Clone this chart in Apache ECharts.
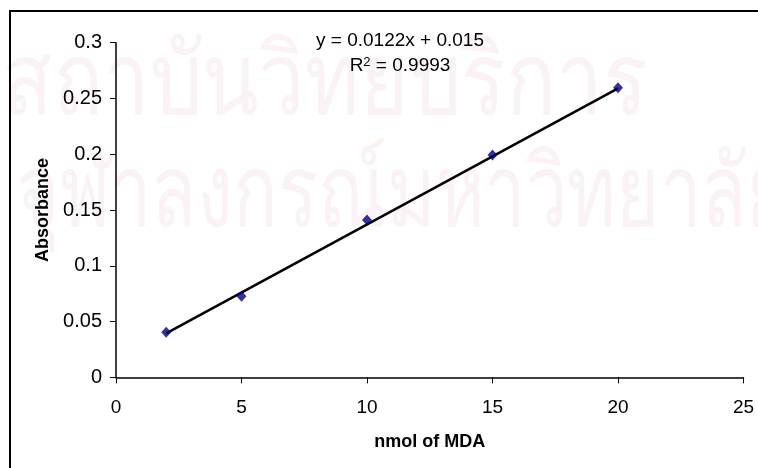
<!DOCTYPE html>
<html lang="en">
<head>
    <meta charset="UTF-8">
    <title>MDA standard curve</title>
    <script type="text/javascript" src="https://cdn.jsdelivr.net/npm/echarts@6/dist/echarts.min.js"></script>
    <style>
        html, body { margin: 0; padding: 0; background: #fff; }
    </style>
</head>
<body>
    <div id="main" style="width: 758px; height: 468px"></div>
    <script type="text/javascript">
        // readings
        var nmolMDA = [2, 5, 10, 15, 20];
        var absorbance = [0.0404, 0.0726, 0.141, 0.1994, 0.2597];
        // linear trendline y = 0.0122x + 0.015, drawn over the data range
        var trendSlope = 0.0122;
        var trendIntercept = 0.015;
        var trendX = [2, 20];
        var equationLines = ['y = 0.0122x + 0.015', 'R{sup|2} = 0.9993'];
        var watermarkLines = ['สถาบันวิทยบริการ', 'จุฬาลงกรณ์มหาวิทยาลัย'];

        var points = nmolMDA.map(function (x, i) { return [x, absorbance[i]]; });
        var trend = trendX.map(function (x) { return [x, trendSlope * x + trendIntercept]; });

        var myChart = echarts.init(document.getElementById('main'));

        var mark = {
            fontSize: 100,
            fontFamily: 'sans-serif',
            fill: '#fbf2f5'
        };

        myChart.setOption({
            animation: false,
            backgroundColor: '#fff',
            grid: {
                left: 116,
                right: 14.5,
                top: 42.7,
                bottom: 90.7
            },
            graphic: [{
                type: 'text',
                z: -10,
                x: 2,
                y: 36,
                scaleX: 0.83,
                style: Object.assign({ text: watermarkLines[0] }, mark)
            }, {
                type: 'text',
                z: -10,
                x: 16,
                y: 148,
                scaleX: 0.74,
                style: Object.assign({ text: watermarkLines[1] }, mark)
            }, {
                type: 'rect',
                z: 100,
                shape: { x: 10, y: 11, width: 800, height: 500 },
                style: { fill: null, stroke: '#000', lineWidth: 2 }
            }, {
                type: 'text',
                z: 100,
                x: 400,
                y: 41,
                style: {
                    text: equationLines[0],
                    fontSize: 19,
                    fontFamily: 'Liberation Sans, Arial',
                    fill: '#000',
                    align: 'center',
                    verticalAlign: 'middle'
                }
            }, {
                type: 'text',
                z: 100,
                x: 400,
                y: 66,
                style: {
                    text: equationLines[1],
                    fontSize: 19,
                    fontFamily: 'Liberation Sans, Arial',
                    fill: '#000',
                    align: 'center',
                    verticalAlign: 'middle',
                    rich: {
                        sup: {
                            fontSize: 13,
                            fontFamily: 'Liberation Sans, Arial',
                            verticalAlign: 'top',
                            padding: [0, 0, 8, 0]
                        }
                    }
                }
            }],
            xAxis: {
                type: 'value',
                min: 0,
                max: 25,
                interval: 5,
                name: 'nmol of MDA',
                nameLocation: 'middle',
                nameGap: 56,
                nameTextStyle: {
                    color: '#000',
                    fontSize: 18,
                    fontWeight: 'bold',
                    fontFamily: 'Liberation Sans, Arial'
                },
                axisLine: {
                    onZero: false,
                    lineStyle: { color: '#000', width: 1.5 }
                },
                axisTick: {
                    show: true,
                    length: 6,
                    lineStyle: { color: '#000', width: 1 }
                },
                axisLabel: {
                    color: '#000',
                    fontSize: 19,
                    margin: 21,
                    fontFamily: 'Liberation Sans, Arial'
                },
                splitLine: { show: false }
            },
            yAxis: {
                type: 'value',
                min: 0,
                max: 0.3,
                interval: 0.05,
                name: 'Absorbance',
                nameLocation: 'middle',
                nameGap: 64,
                nameTextStyle: {
                    color: '#000',
                    fontSize: 18,
                    fontWeight: 'bold',
                    fontFamily: 'Liberation Sans, Arial'
                },
                axisLine: {
                    show: true,
                    lineStyle: { color: '#000', width: 1.5 }
                },
                axisTick: {
                    show: true,
                    length: 6,
                    lineStyle: { color: '#000', width: 1 }
                },
                axisLabel: {
                    color: '#000',
                    fontSize: 20,
                    margin: 14,
                    fontFamily: 'Liberation Sans, Arial'
                },
                splitLine: { show: false }
            },
            series: [{
                type: 'line',
                data: trend,
                showSymbol: false,
                symbol: 'none',
                lineStyle: { color: '#000', width: 2.5 },
                z: 2
            }, {
                type: 'scatter',
                data: points,
                symbol: 'diamond',
                symbolSize: [10, 11],
                itemStyle: { color: '#000080' },
                z: 3
            }]
        });
    </script>
</body>
</html>
